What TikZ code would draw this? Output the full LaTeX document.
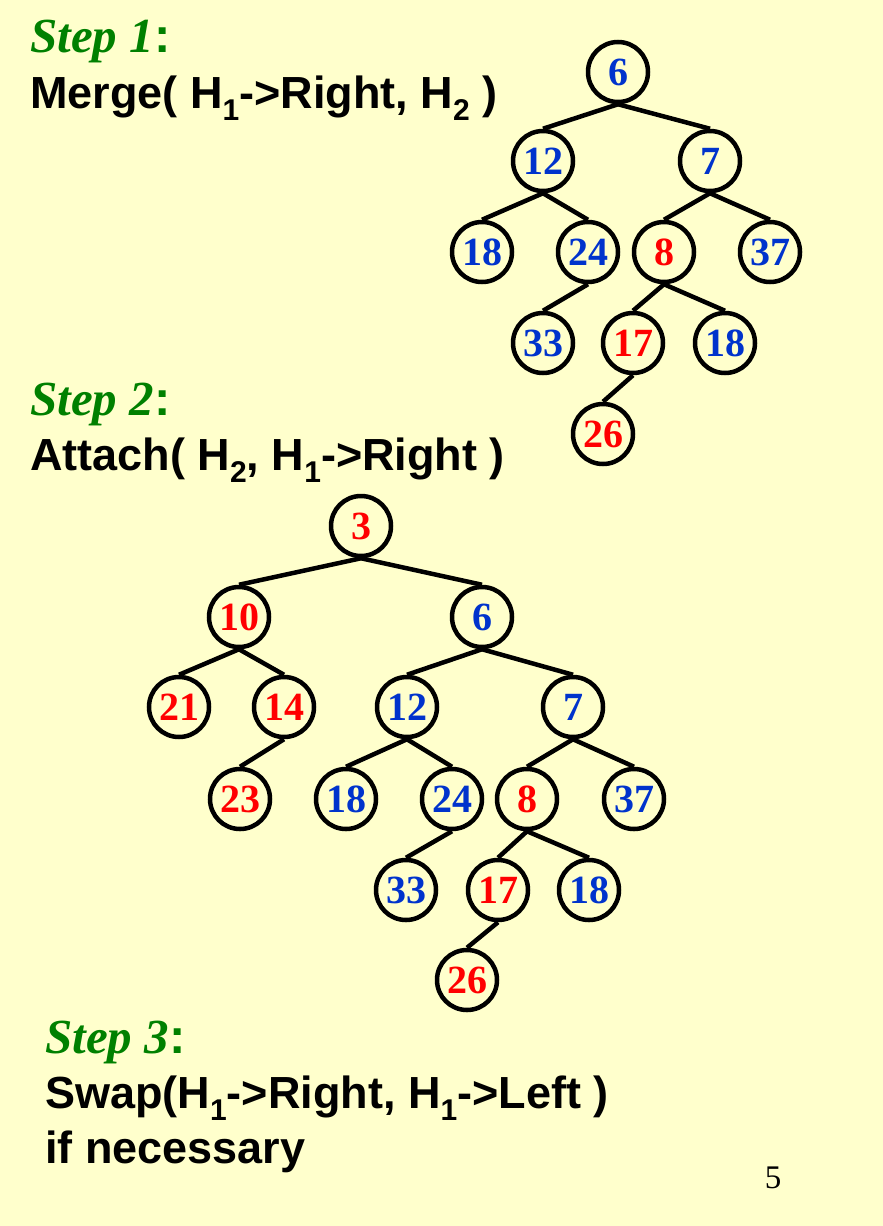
\documentclass[tikz,border=0pt]{standalone}
\usepackage{fontspec}
\setmainfont{Liberation Serif}
\newfontfamily\arialFont{Liberation Sans}
\usetikzlibrary{positioning}

\definecolor{slideYellow}{HTML}{FFFFCC}
\definecolor{stepGreen}{HTML}{008000}
\definecolor{keyBlue}{HTML}{0033CC}
\definecolor{keyRed}{HTML}{FF0000}

% lowered index after H
\newcommand{\hIdx}[1]{\raisebox{-0.28em}{\fontsize{30}{30}\selectfont #1}}

\begin{document}
\begin{tikzpicture}[
    x=1pt, y=-1pt,
    heapNode/.style={circle, draw=black, line width=4.5pt, minimum size=60pt, inner sep=0pt,
        font=\fontsize{40}{40}\selectfont\bfseries},
    blueKey/.style={heapNode, text=keyBlue},
    redKey/.style={heapNode, text=keyRed},
    heapEdge/.style={line width=4.5pt},
    stepTitle/.style={anchor=base west, inner sep=0pt, text=stepGreen,
        font=\fontsize{49}{49}\selectfont\bfseries\itshape},
    stepText/.style={anchor=base west, inner sep=0pt, align=left,
        font=\arialFont\fontsize{45}{56}\selectfont\bfseries}
]

    % page
    \fill[slideYellow] (0,0) rectangle (883,1226);
    \useasboundingbox (0,0) rectangle (883,1226);

    % --- STEP LABELS ---
    \node[stepTitle] (s1) at (30,52) {Step 1{\arialFont\upshape :}};
    \node[stepText] (m1) at (30,108) {Merge( H\hIdx{1}->Right, H\hIdx{2} )};
    \node[stepTitle] (s2) at (30,415) {Step 2{\arialFont\upshape :}};
    \node[stepText] (m2) at (30,470) {Attach( H\hIdx{2}, H\hIdx{1}->Right )};
    \node[stepTitle] (s3) at (45,1053) {Step 3{\arialFont\upshape :}};
    \node[stepText] (m3) at (45,1108) {Swap(H\hIdx{1}->Right, H\hIdx{1}->Left )};
    \node[stepText] (m4) at (45,1163) {if necessary};

    % page number
    \node[anchor=base, font=\fontsize{33}{33}\selectfont] (pg) at (773,1188) {5};

    % --- TREE AFTER MERGE ---
    \node[blueKey] (a6) at (618,72) {6};
    \node[blueKey] (a12) at (543,161) {12};
    \node[blueKey] (a7) at (710,161) {7};
    \node[blueKey] (a18) at (482,252) {18};
    \node[blueKey] (a24) at (588,252) {24};
    \node[redKey] (a8) at (664,252) {8};
    \node[blueKey] (a37) at (770,252) {37};
    \node[blueKey] (a33) at (543,343) {33};
    \node[redKey] (a17) at (633,343) {17};
    \node[blueKey] (a18b) at (725,343) {18};
    \node[redKey] (a26) at (603,434) {26};

    \draw[heapEdge] (a6.south) -- (a12.north);
    \draw[heapEdge] (a6.south) -- (a7.north);
    \draw[heapEdge] (a12.south) -- (a18.north);
    \draw[heapEdge] (a12.south) -- (a24.north);
    \draw[heapEdge] (a24.south) -- (a33.north);
    \draw[heapEdge] (a7.south) -- (a8.north);
    \draw[heapEdge] (a7.south) -- (a37.north);
    \draw[heapEdge] (a8.south) -- (a17.north);
    \draw[heapEdge] (a8.south) -- (a18b.north);
    \draw[heapEdge] (a17.south) -- (a26.north);

    % --- TREE AFTER ATTACH ---
    \node[redKey] (b3) at (361,526) {3};
    \node[redKey] (b10) at (239,617) {10};
    \node[blueKey] (b6) at (482,617) {6};
    \node[redKey] (b21) at (179,707) {21};
    \node[redKey] (b14) at (284,707) {14};
    \node[blueKey] (b12) at (407,707) {12};
    \node[blueKey] (b7) at (573,707) {7};
    \node[redKey] (b23) at (240,799) {23};
    \node[blueKey] (b18) at (346,799) {18};
    \node[blueKey] (b24) at (452,799) {24};
    \node[redKey] (b8) at (527,799) {8};
    \node[blueKey] (b37) at (634,799) {37};
    \node[blueKey] (b33) at (406,890) {33};
    \node[redKey] (b17) at (498,890) {17};
    \node[blueKey] (b18b) at (589,890) {18};
    \node[redKey] (b26) at (467,980) {26};

    \draw[heapEdge] (b3.south) -- (b10.north);
    \draw[heapEdge] (b3.south) -- (b6.north);
    \draw[heapEdge] (b10.south) -- (b21.north);
    \draw[heapEdge] (b10.south) -- (b14.north);
    \draw[heapEdge] (b14.south) -- (b23.north);
    \draw[heapEdge] (b6.south) -- (b12.north);
    \draw[heapEdge] (b6.south) -- (b7.north);
    \draw[heapEdge] (b12.south) -- (b18.north);
    \draw[heapEdge] (b12.south) -- (b24.north);
    \draw[heapEdge] (b24.south) -- (b33.north);
    \draw[heapEdge] (b7.south) -- (b8.north);
    \draw[heapEdge] (b7.south) -- (b37.north);
    \draw[heapEdge] (b8.south) -- (b17.north);
    \draw[heapEdge] (b8.south) -- (b18b.north);
    \draw[heapEdge] (b17.south) -- (b26.north);

\end{tikzpicture}
\end{document}
